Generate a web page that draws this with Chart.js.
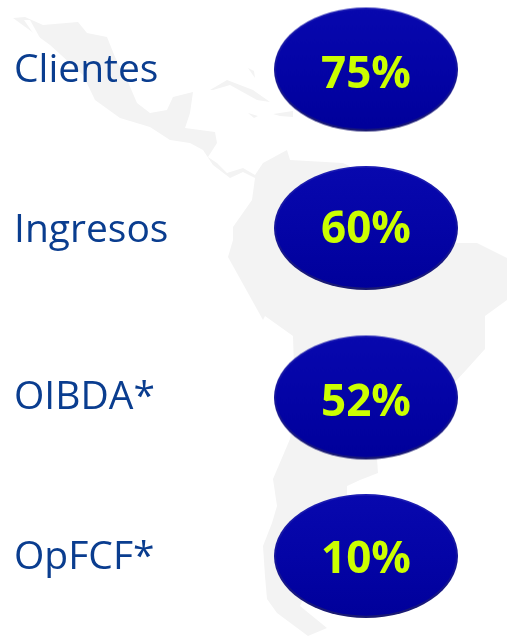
<!DOCTYPE html>
<html><head><meta charset="utf-8">
<style>html,body{margin:0;padding:0;background:#fff}canvas{display:block}</style>
<script src="https://cdn.jsdelivr.net/npm/chart.js@4"></script>
</head><body><canvas id="c" width="507" height="636"></canvas>
<script>
const categories = ['Clientes', 'Ingresos', 'OIBDA*', 'OpFCF*'];
const shares = [75, 60, 52, 10];

// layout (not data): vertical positions of ovals, row labels and oval texts
const rowCentres = [69.5, 228, 397.5, 556];
const labelCentres = [70.5, 231, 397.5, 558];
const shareCentres = [75.5, 230.5, 403.5, 560.5];
const ovalCentre = 366;

function ovalSprite(rx, ry) {
  const s = document.createElement('canvas');
  s.width = rx * 2 + 4; s.height = ry * 2 + 4;
  const g = s.getContext('2d'), cx = s.width / 2, cy = s.height / 2;
  g.beginPath(); g.ellipse(cx, cy, rx, ry, 0, 0, Math.PI * 2);
  const rim = g.createLinearGradient(0, cy - ry, 0, cy + ry);
  rim.addColorStop(0, '#1c1cb4'); rim.addColorStop(.5, '#14149a'); rim.addColorStop(1, '#1a1a70');
  g.fillStyle = rim; g.fill();
  g.beginPath(); g.ellipse(cx, cy - .3, rx - 2, ry - 2, 0, 0, Math.PI * 2);
  const body = g.createLinearGradient(0, cy - ry, 0, cy + ry);
  body.addColorStop(0, '#0808ae'); body.addColorStop(.5, '#0404a6'); body.addColorStop(1, '#00009a');
  g.fillStyle = body; g.fill();
  return s;
}

const backdrop = {
  id: 'backdrop',
  beforeDraw(chart) {
    const c = chart.ctx;
    const poly = pts => { c.beginPath(); pts.forEach((p, i) => i ? c.lineTo(p[0], p[1]) : c.moveTo(p[0], p[1])); c.closePath(); c.fill(); };
    c.save();
    c.fillStyle = '#f3f3f3';
    poly([[13,18],[25,17],[43,25],[78,22],[87,33],[107,37],[115,57],[128,82],[137,103],[150,113],[167,110],[173,97],[193,92],[190,113],[185,128],[215,132],[217,143],[208,157],[217,163],[227,173],[243,168],[255,175],[263,163],[287,150],[290,160],[343,163],[400,190],[457,243],[477,243],[507,258],[507,300],[485,316],[485,349],[467,369],[420,420],[377,459],[378,473],[360,480],[347,486],[347,500],[320,560],[300,606],[327,628],[308,636],[277,613],[267,599],[265,576],[263,546],[272,523],[277,506],[273,479],[290,439],[295,400],[293,336],[265,316],[263,320],[228,257],[233,240],[233,227],[252,200],[255,178],[243,172],[230,178],[213,165],[203,150],[190,143],[170,140],[150,127],[120,118],[95,100],[83,75],[50,45]]);
    poly([[210,90],[227,80],[253,90],[270,102],[257,100],[230,85],[213,90]]);
    poly([[273,114],[293,111],[293,117],[280,116]]);
    poly([[248,113],[258,116],[254,118]]);
    poly([[248,68],[254,71],[255,78]]);
    c.fillStyle = '#fff';
    poly([[24,20],[30,20],[45,47],[42,46]]);
    c.restore();
  }
};

const shareLabels = {
  id: 'shareLabels',
  afterDatasetsDraw(chart) {
    const c = chart.ctx, y = chart.scales.y;
    c.save();
    c.font = 'bold 44px "Open Sans"';
    c.fillStyle = '#ccff00';
    c.textAlign = 'center';
    c.textBaseline = 'middle';
    chart.getDatasetMeta(0).data.forEach((el, i) => c.fillText(shares[i] + '%', el.x, y.getPixelForValue(shareCentres[i])));
    c.restore();
  }
};

new Chart(document.getElementById('c'), {
  type: 'scatter',
  data: {
    datasets: [{
      data: shares.map((v, i) => ({ x: ovalCentre, y: rowCentres[i] })),
      pointStyle: ovalSprite(92, 62),
      pointRadius: 10
    }]
  },
  plugins: [backdrop, shareLabels],
  options: {
    responsive: false,
    animation: false,
    layout: { padding: 0, autoPadding: false },
    plugins: { legend: { display: false }, tooltip: { enabled: false } },
    scales: {
      x: { type: 'linear', display: false, min: 0, max: 507 },
      y: {
        type: 'linear', reverse: true, min: 0, max: 636,
        border: { display: false },
        grid: { display: false, drawTicks: false },
        afterBuildTicks: ax => { ax.ticks = labelCentres.map(v => ({ value: v })); },
        afterFit: ax => { ax.width = 0; ax.paddingTop = 0; ax.paddingBottom = 0; },
        ticks: {
          mirror: true, padding: 14, autoSkip: false, maxRotation: 0,
          color: '#0a3d8f',
          font: { family: '"Open Sans"', size: 39 },
          callback: (v, i) => categories[i]
        }
      }
    }
  }
});
</script></body></html>
